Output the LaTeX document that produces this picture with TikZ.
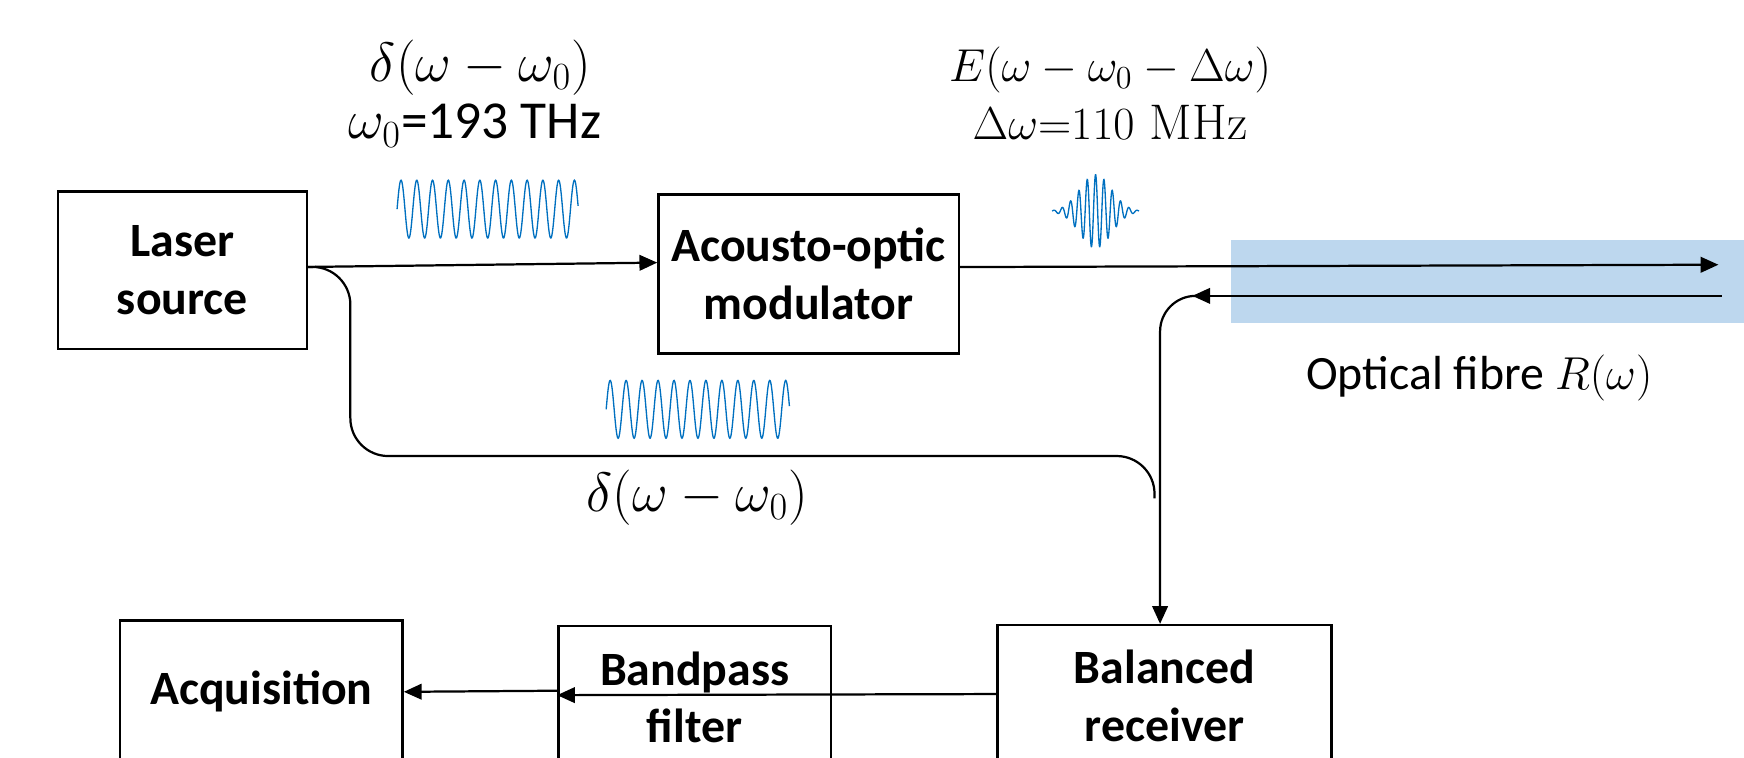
\documentclass[tikz,border=0pt]{standalone}
\usepackage{fontspec}
\newfontfamily\cfont{Carlito}
\usetikzlibrary{arrows.meta}
\definecolor{wavecol}{HTML}{0070C0}
\definecolor{fibrecol}{HTML}{BDD7EE}
\begin{document}
\begin{tikzpicture}[x=0.5pt,y=-0.5pt,
  blk/.style={draw, line width=1.1pt, align=center, inner sep=0pt,
    font=\cfont\bfseries\fontsize{21.5}{26}\selectfont},
  conn/.style={line width=1pt, -{Triangle[length=8pt,width=7pt]}},
  plain/.style={line width=1pt},
  wave/.style={wavecol, line width=0.6pt},
  lbl/.style={align=center, inner sep=0pt, font=\fontsize{22.5}{24}\selectfont},
  biglbl/.style={align=center, inner sep=0pt, font=\fontsize{23}{26}\selectfont}]
\clip (0,0) rectangle (1568,681);
% fibre
\fill[fibrecol] (1107,216) rectangle (1568,290);
% blocks
\node[blk, minimum width=112pt, minimum height=71pt] (laser) at (164,243) {Laser\\source};
\node[blk, minimum width=135pt, minimum height=71.5pt] (aom) at (727,246.5) {Acousto-optic\\modulator};
\node[blk, minimum width=127pt, minimum height=64pt] (acq) at (235,622) {Acquisition};
\node[blk, minimum width=122.5pt, minimum height=64pt] (bp) at (624.5,627) {Bandpass\\filter};
\node[blk, minimum width=150pt, minimum height=64pt] (bal) at (1047,626) {Balanced\\receiver};
% coordinates
\coordinate (fibreend) at (1545,238);
\coordinate (retstart) at (1548,266);
\coordinate (rettip) at (1072,266);
\coordinate (bend1) at (315,410);
\coordinate (bend2) at (1038,448);
% connectors
\draw[conn] ([yshift=1.5pt]laser.east) -- ([yshift=5.2pt]aom.west);
\draw[plain, rounded corners=17pt] ([yshift=1.5pt]laser.east) -| (bend1) -| (bend2);
\draw[conn] ([yshift=3.2pt]aom.east) -- (fibreend);
\draw[conn] (retstart) -- (rettip);
\draw[conn, rounded corners=16pt] (rettip) -| ([xshift=-2pt]bal.north);
\draw[conn] ([yshift=3pt]bp.west) -- (acq.east);
\draw[conn] ([yshift=1pt]bal.west) -- ([yshift=1pt]bp.west);
% waves
\draw[wave] plot[domain=0:1,samples=400,smooth] ({357+163*\x},{188-26*sin(11.5*360*\x)});
\draw[wave] plot[domain=0:1,samples=400,smooth] ({545+165*\x},{368-26*sin(11.5*360*\x)});
\draw[wave] plot[domain=-39:39,samples=400,smooth] ({985+\x},{190-33*exp(-(\x/20)*(\x/20))*cos(360*\x/7.5)});
% labels
\node[biglbl] (l1a) at (432,61) {$\delta(\omega-\omega_0)$};
\node[biglbl] (l1b) at (427,113) {$\omega_0${\cfont\fontsize{24}{26}\selectfont=193 THz}};
\node[lbl] (l2a) at (998,63) {$E(\omega-\omega_0-\Delta\omega)$};
\node[lbl] (l2b) at (998,110) {$\Delta\omega{=}110\ \mathrm{MHz}$};
\node[biglbl] (l3) at (627,447) {$\delta(\omega-\omega_0)$};
\node[lbl, font=\cfont\fontsize{21.5}{24}\selectfont] (l4) at (1330,340) {Optical fibre $R(\omega)$};
\end{tikzpicture}
\end{document}
